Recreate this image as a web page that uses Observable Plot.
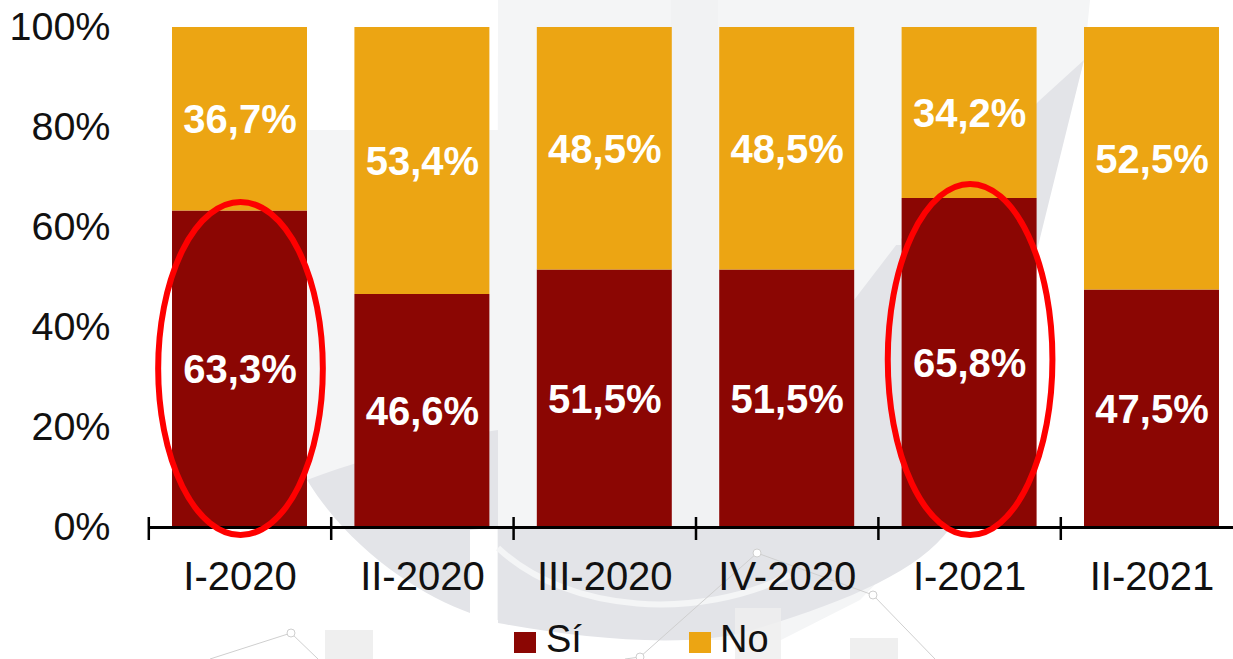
<!DOCTYPE html>
<html><head><meta charset="utf-8">
<script src="https://cdn.jsdelivr.net/npm/d3@7"></script>
<script src="https://cdn.jsdelivr.net/npm/@observablehq/plot@0.6"></script>
<style>
html,body{margin:0;padding:0;background:#fff;overflow:hidden;width:1233px;height:659px}
#bg{position:absolute;left:0;top:0}
#chart{position:absolute;left:0;top:0}
#legend{position:absolute;left:0;top:620px;width:1233px;height:39px;font:38px "Liberation Sans",Arial,sans-serif;color:#111}
#legend span{position:absolute;top:-1px;line-height:40px}
#legend i{position:absolute;top:12px;width:22px;height:21px}
</style></head><body>
<svg id="bg" width="1233" height="659" aria-hidden="true">
  <path d="M498,0H1090L1084,60L1040,230L930,528L860,600L781,640H660L497,620Z" fill="#f4f5f6"/>
  <path d="M307,130H498V480H307Z" fill="#f4f5f6"/>
  <path d="M307,480C360,460 430,440 498,430V623C590,640 700,650 762,627C850,600 920,570 950,528L1000,400L1084,60L1040,100L900,240L854,300V528H489L470,530V613C420,595 350,550 307,480Z" fill="#e3e4e8"/>
  <path d="M671,0H718V528H671Z" fill="#f1f2f3"/>
  <path d="M854,0H901V245H854Z" fill="#f4f5f6"/>
  <path d="M498,548C570,615 700,620 790,575" fill="none" stroke="#f4f5f6" stroke-width="6"/>
  <rect x="325" y="630" width="48" height="29" fill="#efefef"/>
  <rect x="735" y="608" width="46" height="51" fill="#efefef" opacity=".85"/>
  <rect x="850" y="638" width="48" height="21" fill="#efefef"/>
  <g fill="none" stroke="#cfcfcf" stroke-width="1">
    <polyline points="210,659 291,633 318,659"/>
    <polyline points="625,659 640,657 757,553 873,595 935,659"/>
    <g fill="#fff">
      <circle cx="291" cy="633" r="4"/><circle cx="640" cy="657" r="4"/>
      <circle cx="757" cy="553" r="4"/><circle cx="873" cy="595" r="4"/>
    </g>
  </g>
</svg>
<div id="chart"></div>
<div id="legend">
<i style="left:514px;background:#8b0603"></i><span style="left:546px">Sí</span>
<i style="left:689px;background:#eca513"></i><span style="left:720px">No</span>
</div>
<script>
const periods = ["I-2020","II-2020","III-2020","IV-2020","I-2021","II-2021"];
const si = [63.3,46.6,51.5,51.5,65.8,47.5];
const no = [36.7,53.4,48.5,48.5,34.2,52.5];
const yTicks = [0,20,40,60,80,100];
const highlightPeriods = ["I-2020","I-2021"];
const highlightCenter = [31.7,33.5];
const highlightRadius = [33.3,35.1];
const colors = {"Sí":"#8b0603","No":"#eca513"};

const rows = [];
periods.forEach((p,i)=>{
  rows.push({period:p,group:"Sí",value:si[i],base:0});
  rows.push({period:p,group:"No",value:no[i],base:si[i]});
});
const fmt = v => v.toFixed(1).replace(".",",")+"%";
const font = '"Liberation Sans",Arial,sans-serif';

const ellipses = (index, scales) => {
  const g = d3.create("svg:g");
  const bw = scales.x.bandwidth();
  highlightPeriods.forEach((p,i)=>{
    g.append("ellipse")
      .attr("cx", scales.x(p)+bw/2+1)
      .attr("cy", scales.y(highlightCenter[i]))
      .attr("rx", 0.61*bw)
      .attr("ry", scales.y(0)-scales.y(highlightRadius[i]))
      .attr("fill","none").attr("stroke","#fe0000").attr("stroke-width",6);
  });
  return g.node();
};

const chart = Plot.plot({
  width:1233, height:620,
  marginLeft:148.3, marginRight:-9.7, marginTop:27, marginBottom:93,
  style:{background:"transparent",fontFamily:font,color:"#111",overflow:"hidden"},
  x:{domain:periods,round:false,paddingInner:0.26,paddingOuter:0.13,label:null,axis:null},
  y:{domain:[0,100],label:null,axis:null},
  marks:[
    Plot.barY(rows,{x:"period",y1:"base",y2:d=>d.base+d.value,fill:d=>colors[d.group]}),
    Plot.ruleY([0],{stroke:"#000",strokeWidth:3}),
    Plot.ruleX(periods,{x:d=>d,y1:-2.6,y2:2,stroke:"#000",strokeWidth:2.5,dx:-91.2}),
    Plot.text(rows,{x:"period",y:d=>d.base+d.value/2,dy:1,text:d=>fmt(d.value),fill:"#fff",fontWeight:"bold",fontSize:40}),
    Plot.text(periods,{x:d=>d,y:-10,text:d=>d,fill:"#111",fontSize:40}),
    Plot.text(yTicks,{x:()=>periods[0],y:d=>d,text:d=>d+"%",fill:"#111",fontSize:39.5,textAnchor:"end",dx:-129.5}),
    ellipses
  ]
});
document.getElementById("chart").append(chart);
</script>
</body></html>
